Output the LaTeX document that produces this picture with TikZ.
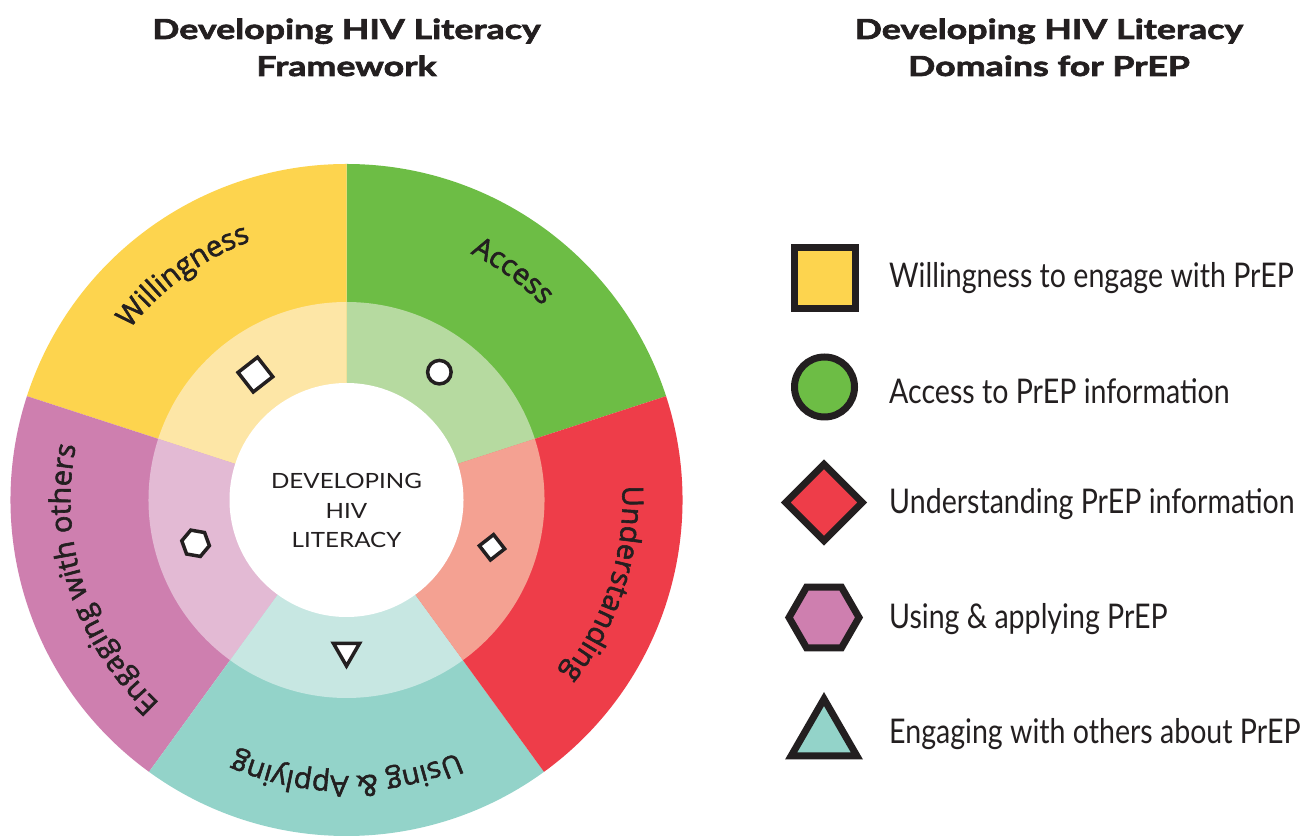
\documentclass[tikz,border=0pt]{standalone}
\usepackage{fontspec}
\usetikzlibrary{decorations.text,shapes.geometric}
\setmainfont{Lato}
\newfontfamily\titlefont{Lato}[FakeStretch=1.3,BoldFeatures={FakeBold=2.5}]
\newfontfamily\legendfont{Lato}[FakeStretch=0.84]
\newfontfamily\centerfont{Lato}[FakeStretch=1.15]
\newfontfamily\wheelfont{Open Sans}[FakeBold=2]
\newcommand\wheeltext{\wheelfont\fontsize{29}{29}\selectfont}
\definecolor{ink}{HTML}{231F20}
\definecolor{yel}{HTML}{FDD44E}
\definecolor{yell}{HTML}{FDE6A6}
\definecolor{grn}{HTML}{6DBD45}
\definecolor{grnl}{HTML}{B6DAA0}
\definecolor{redc}{HTML}{EE3D49}
\definecolor{redl}{HTML}{F4A192}
\definecolor{tealc}{HTML}{93D3C9}
\definecolor{teall}{HTML}{C7E7E2}
\definecolor{pinkc}{HTML}{CE7FAF}
\definecolor{pinkl}{HTML}{E3BAD4}
\begin{document}
\begin{tikzpicture}[x=1pt,y=1pt,
  outline/.style={draw=ink, line width=7pt, inner sep=0pt},
  markbox/.style={draw=ink, fill=white, line width=3.5pt, inner sep=0pt},
  legtext/.style={anchor=base west, inner sep=0pt, font=\legendfont\fontsize{34}{40}\selectfont, text=ink},
  titletext/.style={anchor=base, inner sep=0pt, font=\titlefont\bfseries\fontsize{27.5}{37}\selectfont, text=ink},
  centertext/.style={anchor=base, inner sep=0pt, font=\centerfont\fontsize{21}{25}\selectfont, text=ink},
  arctext/.style={decorate, decoration={text along path, text align=center, text color=ink}},
]
\useasboundingbox (0,0) rectangle (1311,835);
\fill[white] (0,0) rectangle (1311,835);

% titles
\node[titletext] (t1a) at (346.5,796) {Developing HIV Literacy};
\node[titletext] (t1b) at (346.5,759) {Framework};
\node[titletext] (t2a) at (1049,796) {Developing HIV Literacy};
\node[titletext] (t2b) at (1049,759) {Domains for PrEP};

% wheel
\begin{scope}[shift={(346.5,335)}]
  \coordinate (C) at (0,0);
  \foreach \a/\col/\lcol in {18/grn/grnl, 90/yel/yell, 162/pinkc/pinkl, 234/tealc/teall, 306/redc/redl}{
    \fill[\col] (C) -- (\a:336) arc[start angle=\a, end angle=\a+72, radius=336] -- cycle;
  }
  \foreach \a/\col/\lcol in {18/grn/grnl, 90/yel/yell, 162/pinkc/pinkl, 234/tealc/teall, 306/redc/redl}{
    \fill[\lcol] (C) -- (\a:198) arc[start angle=\a, end angle=\a+72, radius=198] -- cycle;
  }
  \fill[white] (C) circle[radius=117];

  \path[arctext, decoration={text={|\wheeltext|Willingness}}] (161:276) arc[start angle=161, end angle=91, radius=276];
  \path[arctext, decoration={text={|\wheeltext|Access}}] (89:276) arc[start angle=89, end angle=19, radius=276];
  \path[arctext, decoration={text={|\wheeltext|Understanding}}] (17:276) arc[start angle=17, end angle=-53, radius=276];
  \path[arctext, decoration={text={|\wheeltext|Using {\&} Applying}}] (-55:276) arc[start angle=-55, end angle=-125, radius=276];
  \path[arctext, decoration={text={|\wheeltext|Engaging with others}}] (233:276) arc[start angle=233, end angle=163, radius=276];

  \node[markbox, regular polygon, regular polygon sides=4, shape border rotate=38, minimum size=35pt] (sy) at (126:155) {};
  \node[markbox, circle, minimum size=23.5pt] (sg) at (54:158) {};
  \node[markbox, regular polygon, regular polygon sides=4, shape border rotate=38, minimum size=25.5pt] (sr) at (-18:153) {};
  \node[markbox, regular polygon, regular polygon sides=3, shape border rotate=180, minimum size=30pt] (st) at (0,-151) {};
  \node[markbox, regular polygon, regular polygon sides=6, shape border rotate=-10, minimum size=28pt] (sp) at (196:157) {};

  \node[centertext] (c1) at (0,11.7) {DEVELOPING};
  \node[centertext] (c2) at (0,-18.3) {HIV};
  \node[centertext] (c3) at (0,-47.7) {LITERACY};
\end{scope}

% legend
\node[outline, fill=yel, rectangle, minimum size=61pt] (ly) at (824.5,556.5) {};
\node[outline, fill=grn, circle, minimum size=60pt] (lg) at (824.5,448) {};
\node[outline, fill=redc, regular polygon, regular polygon sides=4, shape border rotate=45, minimum size=76.5pt] (lr) at (824,332.5) {};
\node[outline, fill=pinkc, regular polygon, regular polygon sides=6, minimum size=70pt] (lp) at (824,217.5) {};
\node[outline, fill=tealc, regular polygon, regular polygon sides=3, minimum size=76pt] (lt) at (824,98) {};

\node[legtext] (w1) at (889,547) {Willingness to engage with PrEP};
\node[legtext] (w2) at (889,431) {Access to PrEP information};
\node[legtext] (w3) at (889,321) {Understanding PrEP information};
\node[legtext] (w4) at (889,206.5) {Using \& applying PrEP};
\node[legtext] (w5) at (889,91) {Engaging with others about PrEP};
\end{tikzpicture}
\end{document}
